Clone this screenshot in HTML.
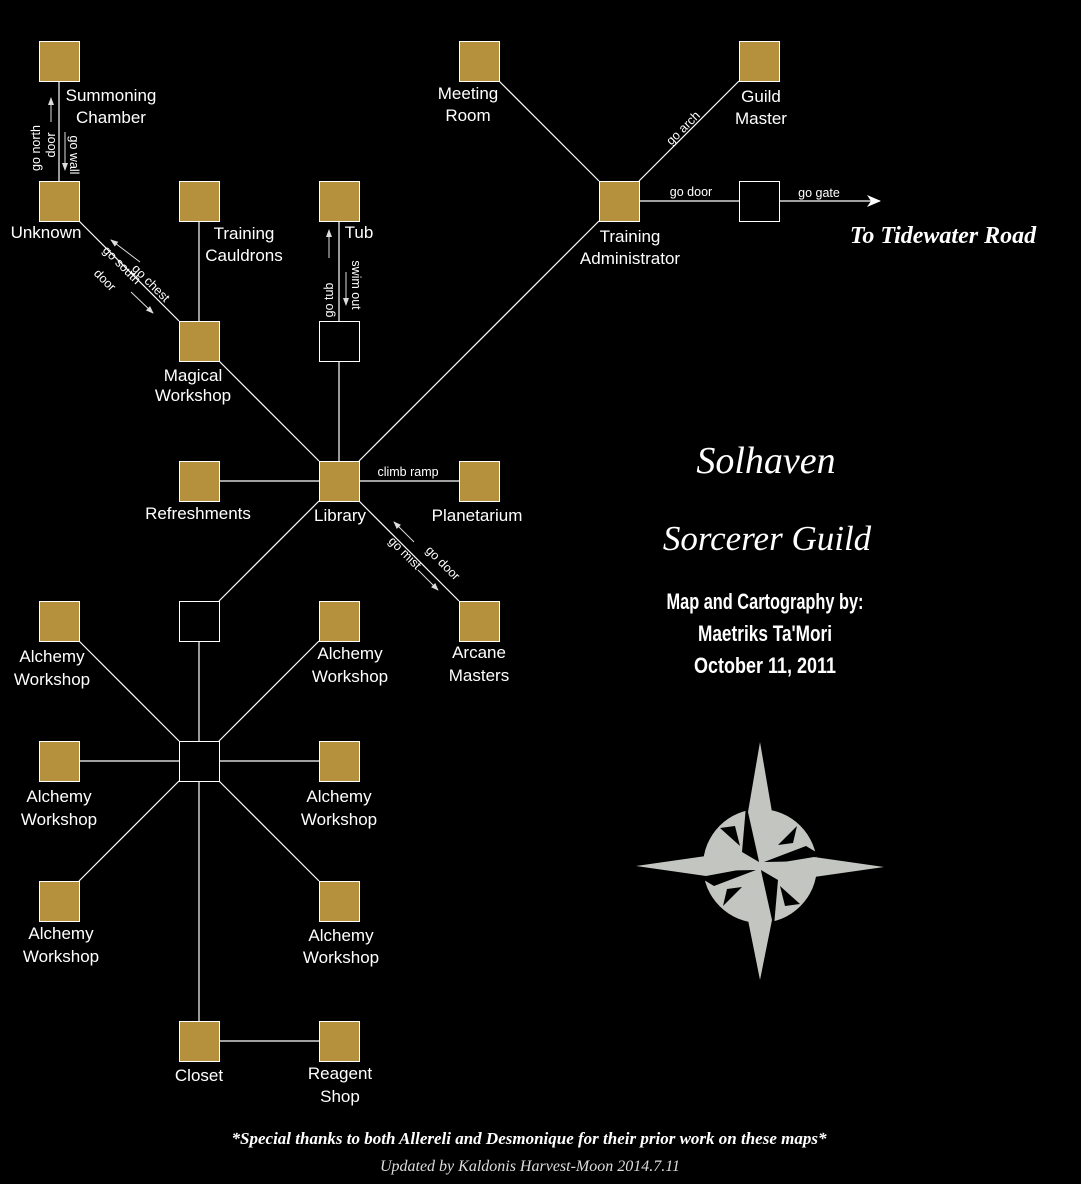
<!DOCTYPE html>
<html><head><meta charset="utf-8"><style>
html,body{margin:0;padding:0;background:#000;}
svg{display:block}
.l{font-family:"Liberation Sans",Arial,sans-serif;font-size:17px;fill:#fff;text-anchor:middle}
.e{font-family:"Liberation Sans",Arial,sans-serif;font-size:12.5px;fill:#fff;text-anchor:middle}
.s{font-family:"Liberation Serif",serif;font-style:italic;fill:#fff;text-anchor:middle}
.n{font-family:"Liberation Sans",sans-serif;font-size:22px;font-weight:bold;fill:#fff;text-anchor:middle}
</style></head><body>
<svg width="1081" height="1184" viewBox="0 0 1081 1184" xmlns="http://www.w3.org/2000/svg">
<rect width="1081" height="1184" fill="#000"/>
<defs><marker id="a" markerWidth="8" markerHeight="8" refX="7" refY="4" orient="auto" markerUnits="userSpaceOnUse"><path d="M0,1 L8,4 L0,7 Z" fill="#ddd"/></marker>
<marker id="b" markerWidth="14" markerHeight="12" refX="13" refY="6" orient="auto" markerUnits="userSpaceOnUse"><path d="M0,0 L14,6 L0,12 L4,6 Z" fill="#fff"/></marker></defs>
<g stroke="#fff" stroke-width="1.2" fill="none">
<line x1="59" y1="81" x2="59" y2="181"/>
<line x1="79" y1="221" x2="179" y2="321"/>
<line x1="199" y1="221" x2="199" y2="321"/>
<line x1="339" y1="221" x2="339" y2="321"/>
<line x1="339" y1="361" x2="339" y2="461"/>
<line x1="219" y1="361" x2="319" y2="461"/>
<line x1="359" y1="461" x2="599" y2="221"/>
<line x1="499" y1="81" x2="599" y2="181"/>
<line x1="739" y1="81" x2="639" y2="181"/>
<line x1="639" y1="201" x2="739" y2="201"/>
<line x1="779" y1="201" x2="880" y2="201" marker-end="url(#b)"/>
<line x1="219" y1="481" x2="319" y2="481"/>
<line x1="359" y1="481" x2="459" y2="481"/>
<line x1="359" y1="501" x2="459" y2="601"/>
<line x1="319" y1="501" x2="219" y2="601"/>
<line x1="199" y1="641" x2="199" y2="741"/>
<line x1="179" y1="741" x2="79" y2="641"/>
<line x1="219" y1="741" x2="319" y2="641"/>
<line x1="79" y1="761" x2="179" y2="761"/>
<line x1="219" y1="761" x2="319" y2="761"/>
<line x1="179" y1="781" x2="79" y2="881"/>
<line x1="219" y1="781" x2="319" y2="881"/>
<line x1="199" y1="781" x2="199" y2="1021"/>
<line x1="219" y1="1041" x2="319" y2="1041"/>
</g>
<g stroke="#ddd" stroke-width="1" marker-end="url(#a)">
<line x1="51" y1="122" x2="51" y2="98"/>
<line x1="65" y1="132" x2="65" y2="170"/>
<line x1="140" y1="262" x2="111" y2="240"/>
<line x1="131" y1="292" x2="153" y2="313"/>
<line x1="329" y1="258" x2="329" y2="230"/>
<line x1="346" y1="272" x2="346" y2="305"/>
<line x1="414" y1="542" x2="394" y2="522"/>
<line x1="418" y1="570" x2="438" y2="590"/>
</g>
<g fill="#b5913e" stroke="#fff" stroke-width="1">
<rect x="39.5" y="41.5" width="40" height="40"/>
<rect x="39.5" y="181.5" width="40" height="40"/>
<rect x="179.5" y="181.5" width="40" height="40"/>
<rect x="319.5" y="181.5" width="40" height="40"/>
<rect x="179.5" y="321.5" width="40" height="40"/>
<rect x="459.5" y="41.5" width="40" height="40"/>
<rect x="739.5" y="41.5" width="40" height="40"/>
<rect x="599.5" y="181.5" width="40" height="40"/>
<rect x="179.5" y="461.5" width="40" height="40"/>
<rect x="319.5" y="461.5" width="40" height="40"/>
<rect x="459.5" y="461.5" width="40" height="40"/>
<rect x="459.5" y="601.5" width="40" height="40"/>
<rect x="39.5" y="601.5" width="40" height="40"/>
<rect x="319.5" y="601.5" width="40" height="40"/>
<rect x="39.5" y="741.5" width="40" height="40"/>
<rect x="319.5" y="741.5" width="40" height="40"/>
<rect x="39.5" y="881.5" width="40" height="40"/>
<rect x="319.5" y="881.5" width="40" height="40"/>
<rect x="179.5" y="1021.5" width="40" height="40"/>
<rect x="319.5" y="1021.5" width="40" height="40"/>
</g>
<g fill="#000" stroke="#fff" stroke-width="1">
<rect x="319.5" y="321.5" width="40" height="40"/>
<rect x="739.5" y="181.5" width="40" height="40"/>
<rect x="179.5" y="601.5" width="40" height="40"/>
<rect x="179.5" y="741.5" width="40" height="40"/>
</g>
<g class="l">
<text x="111" y="101">Summoning</text><text x="111" y="123">Chamber</text>
<text x="46" y="238">Unknown</text>
<text x="244" y="239">Training</text><text x="244" y="261">Cauldrons</text>
<text x="359" y="238">Tub</text>
<text x="193" y="381">Magical</text><text x="193" y="401">Workshop</text>
<text x="468" y="99">Meeting</text><text x="468" y="121">Room</text>
<text x="761" y="102">Guild</text><text x="761" y="124">Master</text>
<text x="630" y="242">Training</text><text x="630" y="264">Administrator</text>
<text x="198" y="519">Refreshments</text>
<text x="340" y="521">Library</text>
<text x="477" y="521">Planetarium</text>
<text x="479" y="658">Arcane</text><text x="479" y="681">Masters</text>
<text x="52" y="662">Alchemy</text><text x="52" y="685">Workshop</text>
<text x="350" y="659">Alchemy</text><text x="350" y="682">Workshop</text>
<text x="59" y="802">Alchemy</text><text x="59" y="825">Workshop</text>
<text x="339" y="802">Alchemy</text><text x="339" y="825">Workshop</text>
<text x="61" y="939">Alchemy</text><text x="61" y="962">Workshop</text>
<text x="341" y="941">Alchemy</text><text x="341" y="963">Workshop</text>
<text x="199" y="1081">Closet</text>
<text x="340" y="1079">Reagent</text><text x="340" y="1102">Shop</text>
</g>
<g class="e">
<text transform="translate(40,148) rotate(-90)">go north</text>
<text transform="translate(55,145) rotate(-90)">door</text>
<text transform="translate(70,155) rotate(90)">go wall</text>
<text transform="translate(148,286) rotate(45)">go chest</text>
<text transform="translate(119,268) rotate(45)">go south</text>
<text transform="translate(102,283) rotate(45)">door</text>
<text transform="translate(333,300) rotate(-90)">go tub</text>
<text transform="translate(352,285) rotate(90)">swim out</text>
<text transform="translate(686,131) rotate(-45)">go arch</text>
<text x="691" y="196">go door</text>
<text x="819" y="197">go gate</text>
<text x="408" y="476">climb ramp</text>
<text transform="translate(440,566) rotate(45)">go door</text>
<text transform="translate(402,556) rotate(45)">go mist</text>
</g>
<text class="s" x="943" y="243" style="font-size:24px;font-weight:bold">To Tidewater Road</text>
<text class="s" x="766" y="473" style="font-size:38px">Solhaven</text>
<text class="s" x="767" y="550" style="font-size:35px">Sorcerer Guild</text>
<text class="n" x="765" y="609" textLength="197" lengthAdjust="spacingAndGlyphs">Map and Cartography by:</text>
<text class="n" x="765" y="641" textLength="134" lengthAdjust="spacingAndGlyphs">Maetriks Ta'Mori</text>
<text class="n" x="765" y="673" textLength="142" lengthAdjust="spacingAndGlyphs">October 11, 2011</text>
<text class="s" x="529" y="1144" style="font-size:17px;font-weight:bold">*Special thanks to both Allereli and Desmonique for their prior work on these maps*</text>
<text class="s" x="530" y="1171" style="font-size:16px;fill:#ddd">Updated by Kaldonis Harvest-Moon 2014.7.11</text>
<g fill="#c3c5c1">
<circle cx="760" cy="866" r="57"/>
</g>
<g fill="#000">
<polygon points="746,806 757,806 759,862 742,852"/>
<polygon points="774,926 763,926 761,870 778,880"/>
<polygon points="816,852 816,861 764,862 806,846"/>
<polygon points="704,880 704,871 756,870 714,886"/>
<polygon points="720,828 740,846 735,826"/>
<polygon points="797,826 778,845 793,843"/>
<polygon points="800,904 780,886 785,906"/>
<polygon points="723,906 742,887 727,889"/>
</g>
<g fill="#c3c5c1">
<polygon points="760,742 772,812 760,866 748,812"/>
<polygon points="760,980 772,920 760,866 748,920"/>
<polygon points="636,866 706,856 760,866 706,876"/>
<polygon points="884,867 814,857 760,866 814,877"/>
</g>
</svg>
</body></html>
